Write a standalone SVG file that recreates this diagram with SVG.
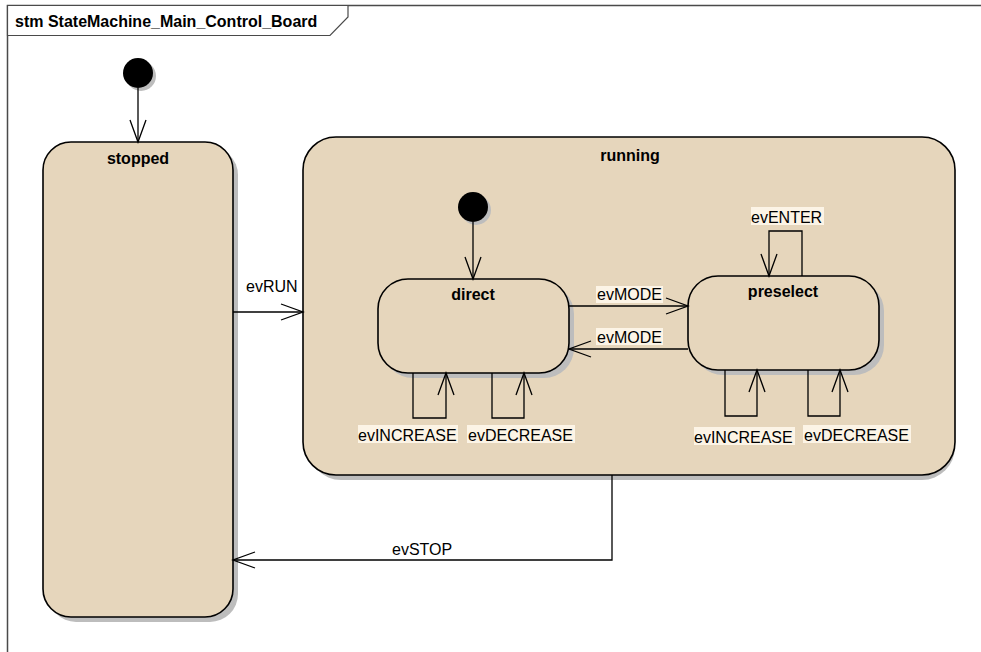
<svg xmlns="http://www.w3.org/2000/svg" width="981" height="652" viewBox="0 0 981 652">
  <style>
    .frame { fill: none; stroke: #4a4a4a; stroke-width: 1.5; }
    .tab { fill: #ffffff; stroke: #4a4a4a; stroke-width: 1.2; }
    .title { font-family: "Liberation Sans", Arial, sans-serif; font-size: 16px; font-weight: bold; fill: #000; }
    .state { fill: #e6d6bc; stroke: #000; stroke-width: 1.6; }
    .shadow { fill: #bdbdbd; }
    .name { font-family: "Liberation Sans", Arial, sans-serif; font-size: 16px; font-weight: bold; fill: #000; text-anchor: middle; }
    .init { fill: #000; }
    .edge { fill: none; stroke: #000; stroke-width: 1.3; }
    .lbl { font-family: "Liberation Sans", Arial, sans-serif; font-size: 16px; fill: #000; }
    .lblbg { fill: #fcf4e6; }
  </style>
  <defs>
    <marker id="open" markerUnits="userSpaceOnUse" viewBox="-24 -10 26 20" refX="0" refY="0" markerWidth="26" markerHeight="20" orient="auto" overflow="visible">
      <path d="M-22,-8 L0,0 L-22,8" fill="none" stroke="#000" stroke-width="1.3"/>
    </marker>
  </defs>

  <rect width="981" height="652" fill="#ffffff"/>

  <!-- diagram frame with name tab -->
  <g id="frame">
    <path class="frame" d="M7.5,652 V5.5 H981"/>
    <path class="tab" d="M7.5,5.5 H348 V17 L330,35.5 H7.5 Z"/>
    <text class="title" x="15" y="27">stm StateMachine_Main_Control_Board</text>
  </g>

  <!-- top-level initial pseudostate -->
  <g id="initial_top">
    <circle class="shadow" cx="141" cy="76" r="15"/>
    <circle class="init" cx="138" cy="73" r="15"/>
  </g>

  <!-- stopped -->
  <g id="stopped">
    <rect class="shadow" x="48" y="147" width="190" height="475" rx="28" ry="28"/>
    <rect class="state" x="43" y="142" width="190" height="475" rx="28" ry="28"/>
    <text class="name" x="138" y="164">stopped</text>
  </g>

  <!-- running (composite) -->
  <g id="running">
    <rect class="shadow" x="308" y="142" width="647" height="338" rx="33" ry="33"/>
    <rect class="state" x="303" y="137" width="652" height="338" rx="33" ry="33"/>
    <text class="name" x="630" y="161">running</text>
  </g>

  <!-- nested initial pseudostate -->
  <g id="initial_running">
    <circle class="shadow" cx="476" cy="210" r="15"/>
    <circle class="init" cx="473" cy="207" r="15"/>
  </g>

  <!-- direct -->
  <g id="direct">
    <rect class="shadow" x="383" y="284" width="191" height="94" rx="30" ry="30"/>
    <rect class="state" x="378" y="279" width="191" height="94" rx="30" ry="30"/>
    <text class="name" x="473" y="300">direct</text>
  </g>

  <!-- preselect -->
  <g id="preselect">
    <rect class="shadow" x="693" y="281" width="191" height="94" rx="30" ry="30"/>
    <rect class="state" x="688" y="276" width="191" height="94" rx="30" ry="30"/>
    <text class="name" x="783" y="297">preselect</text>
  </g>

  <!-- transitions -->
  <g id="connectors">
    <path class="edge" marker-end="url(#open)" d="M138,88 V142"/>
    <path class="edge" marker-end="url(#open)" d="M473,222 V279"/>

    <path class="edge" marker-end="url(#open)" d="M233,312 H303"/>
    <text class="lbl" x="246" y="292">evRUN</text>

    <path class="edge" marker-end="url(#open)" d="M612,475 V560 H233"/>
    <text class="lbl" x="392" y="555">evSTOP</text>

    <path class="edge" marker-end="url(#open)" d="M569,306 H688"/>
    <rect class="lblbg" x="596" y="286" width="67" height="17"/>
    <text class="lbl" x="597" y="300">evMODE</text>

    <path class="edge" marker-end="url(#open)" d="M688,349 H569"/>
    <rect class="lblbg" x="596" y="328" width="67" height="17"/>
    <text class="lbl" x="597" y="343">evMODE</text>

    <!-- direct self transitions -->
    <path class="edge" marker-end="url(#open)" d="M413,373 V418 H446 V373"/>
    <rect class="lblbg" x="358" y="425" width="100" height="18"/>
    <text class="lbl" x="358" y="441">evINCREASE</text>

    <path class="edge" marker-end="url(#open)" d="M492,373 V418 H524 V373"/>
    <rect class="lblbg" x="467" y="425" width="108" height="18"/>
    <text class="lbl" x="468" y="441">evDECREASE</text>

    <!-- preselect self transitions -->
    <path class="edge" marker-end="url(#open)" d="M802,276 V231 H769 V276"/>
    <rect class="lblbg" x="751" y="207" width="73" height="18"/>
    <text class="lbl" x="751" y="223">evENTER</text>

    <path class="edge" marker-end="url(#open)" d="M725,370 V416 H757 V370"/>
    <rect class="lblbg" x="694" y="427" width="101" height="18"/>
    <text class="lbl" x="694" y="443">evINCREASE</text>

    <path class="edge" marker-end="url(#open)" d="M808,370 V416 H840 V370"/>
    <rect class="lblbg" x="803" y="425" width="108" height="18"/>
    <text class="lbl" x="804" y="441">evDECREASE</text>
  </g>
</svg>
